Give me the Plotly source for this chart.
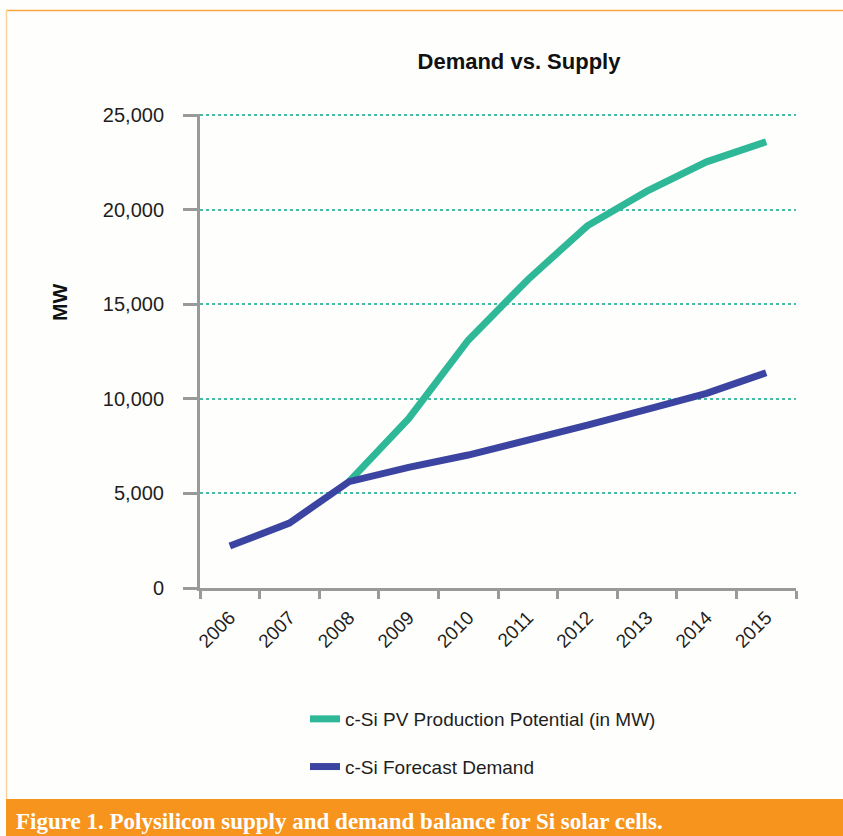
import plotly.graph_objects as go

# Years on the category axis
years = ["2006", "2007", "2008", "2009", "2010", "2011", "2012", "2013", "2014", "2015"]

# c-Si PV production potential (MW); follows demand until 2008
supply_mw = [None, None, 5620, 8950, 13100, 16300, 19150, 20980, 22530, 23590]

# c-Si forecast demand (MW)
demand_mw = [2220, 3435, 5620, 6380, 7030, 7800, 8615, 9445, 10290, 11380]

y_ticks = [0, 5000, 10000, 15000, 20000, 25000]

chart_title = "Demand vs. Supply"
y_label = "MW"
caption = "Figure 1. Polysilicon supply and demand balance for Si solar cells."

GREEN = "#2fb897"
BLUE = "#3b44a0"
AXIS_GREY = "#9a9a9a"
ORANGE = "#f7941e"
TEXT = "#1e1e1e"

W, H = 843, 836
L, R, T, B = 200, 47, 114, 248
PW, PH = W - L - R, H - T - B


def px_x(px):
    return (px - L) / PW


def px_y(py):
    return (H - B - py) / PH


fig = go.Figure()

fig.add_trace(go.Scatter(
    x=years, y=supply_mw, mode="lines",
    name="c-Si PV Production Potential (in MW)",
    line=dict(color=GREEN, width=7),
    legendgroup="supply", connectgaps=False,
))
fig.add_trace(go.Scatter(
    x=years, y=demand_mw, mode="lines",
    name="c-Si Forecast Demand",
    line=dict(color=BLUE, width=7),
    legendgroup="demand",
))

fig.update_layout(
    width=W, height=H,
    margin=dict(l=L, r=R, t=T, b=B, autoexpand=False),
    paper_bgcolor="#fefefc",
    plot_bgcolor="#fefefc",
    font=dict(family="Liberation Sans, Arial, sans-serif", color=TEXT, size=19),
    title=dict(
        text="<b>" + chart_title + "</b>",
        font=dict(size=22, color="#111111"),
        x=px_x(519), xref="paper", xanchor="center",
        y=1 - 54 / H, yref="container", yanchor="top",
    ),
    showlegend=True,
    legend=dict(
        orientation="v",
        x=px_x(305), xanchor="left",
        y=px_y(700), yanchor="top",
        font=dict(size=19, color=TEXT),
        tracegroupgap=20,
        traceorder="grouped",
        bgcolor="rgba(0,0,0,0)",
    ),
    xaxis=dict(
        type="category",
        range=[-0.5, 9.5],
        tickson="boundaries",
        ticks="outside", ticklen=8, tickwidth=3, tickcolor=AXIS_GREY,
        showline=True, linecolor=AXIS_GREY, linewidth=3,
        showgrid=False, zeroline=False,
        tickangle=-45,
        tickfont=dict(size=19, color=TEXT),
        ticklabelstandoff=8,
        fixedrange=True,
    ),
    yaxis=dict(
        range=[0, 25060],
        tickvals=y_ticks,
        tickformat=",d",
        ticks="outside", ticklen=14, tickwidth=3, tickcolor=AXIS_GREY,
        showline=True, linecolor=AXIS_GREY, linewidth=3,
        showgrid=True, gridcolor="#45bca3", gridwidth=1.5, griddash="dot",
        zeroline=False,
        tickfont=dict(size=20, color=TEXT),
        ticklabelstandoff=15,
        fixedrange=True,
    ),
    shapes=[
        # caption band
        dict(type="rect", xref="paper", yref="paper",
             x0=px_x(6), x1=px_x(W + 2), y0=px_y(799), y1=px_y(H + 2),
             fillcolor=ORANGE, line=dict(width=0), layer="above"),
        # frame: top rule
        dict(type="line", xref="paper", yref="paper",
             x0=px_x(6), x1=px_x(W + 2), y0=px_y(10.5), y1=px_y(10.5),
             line=dict(color="#f9a640", width=1.5)),
        # frame: left rule
        dict(type="line", xref="paper", yref="paper",
             x0=px_x(6.5), x1=px_x(6.5), y0=px_y(10), y1=px_y(799),
             line=dict(color="#fdd39c", width=1.5)),
    ],
    annotations=[
        dict(text="<b>" + y_label + "</b>", textangle=-90,
             xref="paper", yref="paper", x=px_x(59), y=px_y(303),
             xanchor="center", yanchor="middle", showarrow=False,
             font=dict(size=21, color="#111111")),
        dict(text="<b>" + caption + "</b>",
             xref="paper", yref="paper", x=px_x(14), y=px_y(821),
             xanchor="left", yanchor="middle", showarrow=False,
             font=dict(family="Liberation Serif, Times New Roman, serif",
                       size=23, color="#ffffff")),
    ],
)

fig.write_html("out.html")
